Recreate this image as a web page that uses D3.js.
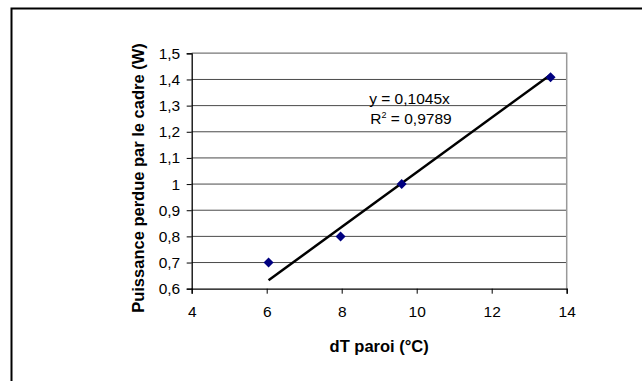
<!DOCTYPE html>
<html><head><meta charset="utf-8">
<script src="https://cdn.jsdelivr.net/npm/d3@7"></script>
<style>body{margin:0;background:#fff}svg{display:block}text{font-family:"Liberation Sans",Arial,sans-serif}</style>
</head><body>
<svg id="c" width="642" height="381"></svg>
<script>
const dT = [6.05, 7.97, 9.6, 13.57];
const puissance = [0.7, 0.8, 1.0, 1.408];
const slope = 0.1045;
const r2Label = "0,9789";
const xTicks = [4, 6, 8, 10, 12, 14];
const yTicks = [0.6, 0.7, 0.8, 0.9, 1.0, 1.1, 1.2, 1.3, 1.4, 1.5];

const svg = d3.select("#c");
const fmt = v => String(+v.toFixed(1)).replace(".", ",");

// outer chart frame (only top/left visible)
svg.append("path").attr("d", "M11.5,400 V8.5 H660").attr("fill", "none").attr("stroke", "#000").attr("stroke-width", 2);

const x = d3.scaleLinear().domain([4, 14]).range([191.7, 566.7]);
const y = d3.scaleLinear().domain([0.6, 1.5]).range([288.7, 53.3]);

// gridlines
svg.append("g").selectAll("line").data(yTicks.slice(1)).join("line")
  .attr("x1", x(4)).attr("x2", x(14)).attr("y1", d => y(d)).attr("y2", d => y(d))
  .attr("stroke", "#4a4a4a").attr("stroke-width", 1);
// plot border right/top
svg.append("path").attr("d", `M${x(4)},${y(1.5)} H${x(14)} V${y(0.6)}`).attr("fill", "none").attr("stroke", "#999").attr("stroke-width", 1.5);

// axes
const yAxis = d3.axisLeft(y).tickValues(yTicks).tickFormat(fmt).tickSize(5).tickPadding(6.5);
const gy = svg.append("g").attr("transform", `translate(${x(4)},0)`).call(yAxis);
const xAxis = d3.axisBottom(x).tickValues(xTicks).tickFormat(d => d).tickSize(5).tickPadding(12);
const gx = svg.append("g").attr("transform", `translate(0,${y(0.6)})`).call(xAxis);
[gx, gy].forEach(g => {
  g.select(".domain").attr("stroke", "#000").attr("stroke-width", 1.3);
  g.selectAll(".tick line").attr("stroke", "#000");
  g.selectAll("text").attr("font-size", 15.5).attr("fill", "#000").attr("font-family", "Liberation Sans, Arial, sans-serif");
});

// trendline
const xmin = d3.min(dT), xmax = d3.max(dT);
svg.append("line").attr("x1", x(xmin)).attr("y1", y(slope * xmin))
  .attr("x2", x(xmax)).attr("y2", y(slope * xmax))
  .attr("stroke", "#000").attr("stroke-width", 2.5);

// markers
svg.append("g").selectAll("path").data(dT.map((d, i) => [d, puissance[i]])).join("path")
  .attr("d", d3.symbol().type(d3.symbolSquare).size(50))
  .attr("transform", d => `translate(${x(d[0])},${y(d[1])}) rotate(45)`)
  .attr("fill", "#000080");

// equation
const eq = svg.append("g").attr("font-size", 15.5).attr("text-anchor", "middle");
eq.append("text").attr("x", 409.5).attr("y", 104).text("y = " + String(slope).replace(".", ",") + "x");
const r = eq.append("text").attr("x", 411).attr("y", 123.5);
r.append("tspan").text("R");
r.append("tspan").attr("font-size", 9).attr("dy", -6).text("2");
r.append("tspan").attr("dy", 6).text(" = " + r2Label);

// axis titles
svg.append("text").attr("x", x(9)).attr("y", 352).attr("text-anchor", "middle")
  .attr("font-weight", "bold").attr("font-size", 16.5).text("dT paroi (°C)");
svg.append("text").attr("transform", "translate(143.5,178) rotate(-90)").attr("text-anchor", "middle")
  .attr("font-weight", "bold").attr("font-size", 16.5).text("Puissance perdue par le cadre (W)");
</script>
</body></html>
